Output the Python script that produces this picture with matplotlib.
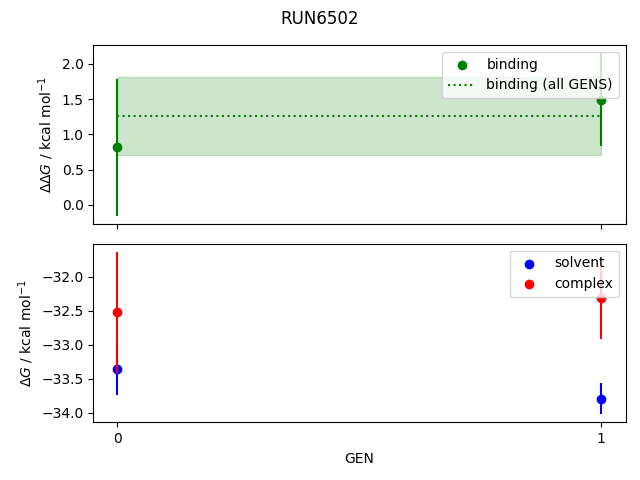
import numpy as np
import matplotlib
matplotlib.use("Agg")
import matplotlib.pyplot as plt

run_name = "RUN6502"
gens = [0, 1]

binding = [0.82, 1.49]
binding_err = [0.97, 0.66]
binding_all = 1.26
binding_all_err = 0.555

solvent = [-33.35, -33.79]
solvent_err = [0.39, 0.23]
complex_ = [-32.52, -32.31]
complex_err = [0.89, 0.61]

fig, axes = plt.subplots(2, 1, sharex=True, figsize=(6.4, 4.8), dpi=100)
fig.suptitle(run_name)

ax = axes[0]
ax.scatter(gens, binding, color="green", label="binding")
ax.errorbar(gens, binding, yerr=binding_err, color="green", linestyle="none")
ax.hlines(binding_all, gens[0], gens[-1], color="green", linestyle=":",
          label="binding (all GENS)")
ax.fill_between(gens, binding_all - binding_all_err, binding_all + binding_all_err,
                color="green", alpha=0.2)
ax.set_ylabel(r"$\Delta\Delta G$ / kcal mol$^{-1}$")
ax.legend(loc="upper right")

ax = axes[1]
ax.scatter(gens, solvent, color="blue", label="solvent")
ax.errorbar(gens, solvent, yerr=solvent_err, color="blue", linestyle="none")
ax.scatter(gens, complex_, color="red", label="complex")
ax.errorbar(gens, complex_, yerr=complex_err, color="red", linestyle="none")
ax.set_ylabel(r"$\Delta G$ / kcal mol$^{-1}$")
ax.set_xlabel("GEN")
ax.set_xticks(gens)
ax.legend(loc="upper right")

fig.subplots_adjust(left=93.3/640, right=625.5/640, top=1-45/480,
                    bottom=1-422.3/480, hspace=0.112)
plt.savefig("out.png")
